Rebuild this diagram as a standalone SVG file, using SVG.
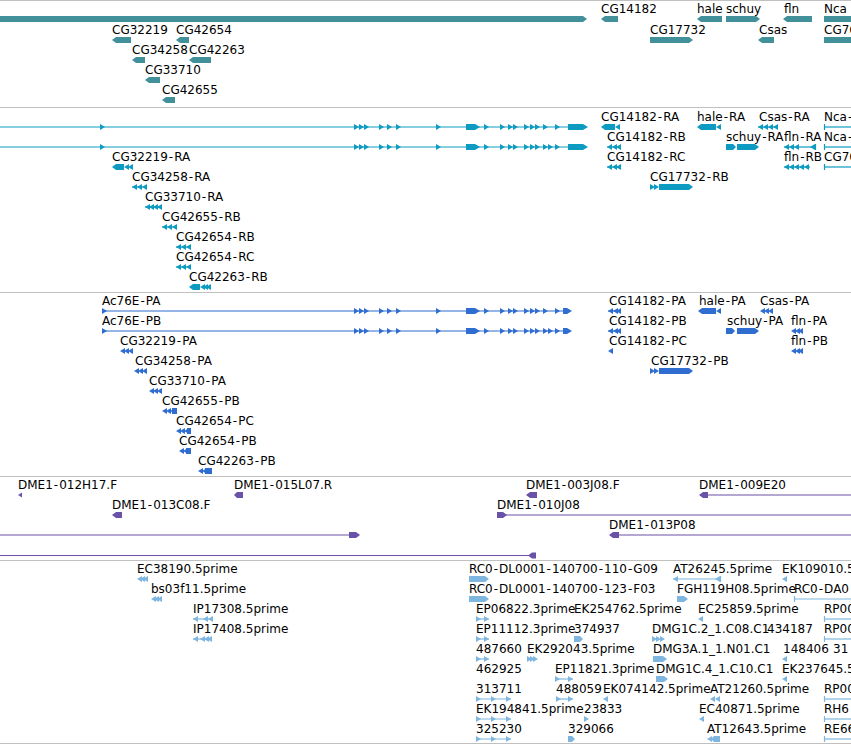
<svg xmlns="http://www.w3.org/2000/svg" width="851" height="744" viewBox="0 0 851 744">
<style>
.t{font-family:"DejaVu Sans","Liberation Sans",sans-serif;font-size:12px;fill:#000}
.h{letter-spacing:1px}
.sep{stroke:#c0c0c0;stroke-width:1;fill:none}
.c1{fill:#42909a}
.c2{fill:#0e9bc1}
.l2{stroke:#0e9bc1;stroke-width:1.2;fill:none}
.c3{fill:#2f6dd0}
.l3{stroke:#2f6dd0;stroke-width:1.2;fill:none}
.c4{fill:#6a52a8}
.l4{stroke:#6a52a8;stroke-width:1.2;fill:none}
.c5{fill:#7eb6e0}
.l5{stroke:#7eb6e0;stroke-width:1.2;fill:none}
</style>
<defs>
<path id="L" d="M0,0 L5,-3 V3 Z"/>
<path id="R" d="M0,-3 L5,0 L0,3 Z"/>
</defs>
<rect x="0" y="0" width="851" height="744" fill="#ffffff"/>
<g id="separators">
<line class="sep" x1="0" y1="0.5" x2="851" y2="0.5"/>
<line class="sep" x1="0" y1="107.5" x2="851" y2="107.5"/>
<line class="sep" x1="0" y1="292.5" x2="851" y2="292.5"/>
<line class="sep" x1="0" y1="476.5" x2="851" y2="476.5"/>
<line class="sep" x1="0" y1="560.5" x2="851" y2="560.5"/>
<line class="sep" x1="0" y1="743.5" x2="851" y2="743.5"/>
</g>

<!-- Track 1: genes -->
<g id="track-genes">
<g id="g-Ac76E" class="c1"><path d="M0,16 H583 L587,19 L583,22 H0 Z"/></g>
<g id="g-CG32219"><text class="t" x="112" y="34">CG32219</text><path class="c1" d="M112,40 L116,37 H131 V43 H116 Z"/></g>
<g id="g-CG42654"><text class="t" x="176" y="34">CG42654</text><path class="c1" d="M176,40 L180,37 H189 V43 H180 Z"/></g>
<g id="g-CG34258"><text class="t" x="132" y="54">CG34258</text><path class="c1" d="M132,60 L136,57 H145 V63 H136 Z"/></g>
<g id="g-CG42263"><text class="t" x="189" y="54">CG42263</text><path class="c1" d="M189,60 L193,57 H211 V63 H193 Z"/></g>
<g id="g-CG33710"><text class="t" x="145" y="74">CG33710</text><path class="c1" d="M145,80 L149,77 H160 V83 H149 Z"/></g>
<g id="g-CG42655"><text class="t" x="162" y="94">CG42655</text><path class="c1" d="M162,100 L166,97 H175 V103 H166 Z"/></g>
<g id="g-CG14182"><text class="t" x="601" y="13">CG14182</text><path class="c1" d="M601,19 L605,16 H618 V22 H605 Z"/></g>
<g id="g-hale"><text class="t" x="697" y="13">hale</text><path class="c1" d="M697,19 L701,16 H722 V22 H701 Z"/></g>
<g id="g-schuy"><text class="t" x="726" y="13">schuy</text><path class="c1" d="M726,16 H756 L760,19 L756,22 H726 Z"/></g>
<g id="g-fln"><text class="t" x="784" y="13">fln</text><path class="c1" d="M783,19 L787,16 H812 V22 H787 Z"/></g>
<g id="g-Nca"><text class="t" x="824" y="13">Nca</text><rect class="c1" x="824" y="16" width="30" height="6"/></g>
<g id="g-CG17732"><text class="t" x="650" y="34">CG17732</text><path class="c1" d="M650,37 H689 L693,40 L689,43 H650 Z"/></g>
<g id="g-Csas"><text class="t" x="759" y="34">Csas</text><path class="c1" d="M758,40 L762,37 H774 V43 H762 Z"/></g>
<g id="g-CG76"><text class="t" x="824" y="34">CG76</text><rect class="c1" x="824" y="37" width="30" height="6"/></g>
</g>

<!-- Track 2: transcripts -->
<g id="track-transcripts" class="c2">
<g id="t-Ac76E-RA">
<line class="l2" x1="0" y1="127" x2="584" y2="127"/>
<use href="#R" x="100" y="127"/>
<use href="#R" x="354" y="127"/><use href="#R" x="359" y="127"/><use href="#R" x="364" y="127"/>
<use href="#R" x="379" y="127"/><use href="#R" x="387" y="127"/><use href="#R" x="396" y="127"/>
<use href="#R" x="436" y="127"/>
<rect x="466" y="124" width="9" height="6"/><use href="#R" x="475" y="127"/>
<use href="#R" x="484" y="127"/>
<use href="#R" x="500" y="127"/><use href="#R" x="508" y="127"/><use href="#R" x="513" y="127"/>
<use href="#R" x="524" y="127"/><use href="#R" x="530" y="127"/><use href="#R" x="535" y="127"/>
<use href="#R" x="543" y="127"/><use href="#R" x="555" y="127"/>
<rect x="568" y="124" width="15" height="6"/><use href="#R" x="583" y="127"/>
</g>
<g id="t-Ac76E-RB">
<line class="l2" x1="0" y1="147" x2="584" y2="147"/>
<use href="#R" x="100" y="147"/>
<use href="#R" x="354" y="147"/><use href="#R" x="359" y="147"/><use href="#R" x="364" y="147"/>
<use href="#R" x="379" y="147"/><use href="#R" x="387" y="147"/><use href="#R" x="396" y="147"/>
<use href="#R" x="436" y="147"/>
<rect x="466" y="144" width="9" height="6"/><use href="#R" x="475" y="147"/>
<use href="#R" x="484" y="147"/>
<use href="#R" x="500" y="147"/><use href="#R" x="508" y="147"/><use href="#R" x="513" y="147"/>
<use href="#R" x="524" y="147"/><use href="#R" x="530" y="147"/><use href="#R" x="535" y="147"/>
<use href="#R" x="543" y="147"/><use href="#R" x="548" y="147"/><use href="#R" x="555" y="147"/>
<rect x="568" y="144" width="15" height="6"/><use href="#R" x="583" y="147"/>
</g>
<g id="t-CG32219-RA"><text class="t" x="112" y="161">CG32219<tspan class="h" dx="1">-</tspan>RA</text><path d="M112,167 L116,164 H124 V170 H116 Z"/><use href="#L" x="124" y="167"/><use href="#L" x="128" y="167"/></g>
<g id="t-CG34258-RA"><text class="t" x="132" y="181">CG34258<tspan class="h" dx="1">-</tspan>RA</text><line class="l2" x1="132" y1="187" x2="147" y2="187"/><use href="#L" x="132" y="187"/><use href="#L" x="137" y="187"/><use href="#L" x="142" y="187"/></g>
<g id="t-CG33710-RA"><text class="t" x="145" y="201">CG33710<tspan class="h" dx="1">-</tspan>RA</text><line class="l2" x1="145" y1="207" x2="162" y2="207"/><use href="#L" x="145" y="207"/><use href="#L" x="149" y="207"/><use href="#L" x="153" y="207"/><use href="#L" x="157" y="207"/></g>
<g id="t-CG42655-RB"><text class="t" x="162" y="221">CG42655<tspan class="h" dx="1">-</tspan>RB</text><line class="l2" x1="162" y1="227" x2="177" y2="227"/><use href="#L" x="162" y="227"/><use href="#L" x="167" y="227"/><use href="#L" x="172" y="227"/></g>
<g id="t-CG42654-RB"><text class="t" x="176" y="241">CG42654<tspan class="h" dx="1">-</tspan>RB</text><line class="l2" x1="176" y1="247" x2="191" y2="247"/><use href="#L" x="176" y="247"/><use href="#L" x="181" y="247"/><use href="#L" x="186" y="247"/></g>
<g id="t-CG42654-RC"><text class="t" x="176" y="261">CG42654<tspan class="h" dx="1">-</tspan>RC</text><line class="l2" x1="176" y1="267" x2="191" y2="267"/><use href="#L" x="176" y="267"/><use href="#L" x="181" y="267"/><use href="#L" x="186" y="267"/></g>
<g id="t-CG42263-RB"><text class="t" x="189" y="281">CG42263<tspan class="h" dx="1">-</tspan>RB</text><path d="M189,287 L193,284 H200 V290 H193 Z"/><use href="#L" x="200" y="287"/><use href="#L" x="203" y="287"/><use href="#L" x="206" y="287"/></g>
<g id="t-CG14182-RA"><text class="t" x="601" y="121">CG14182<tspan class="h" dx="1">-</tspan>RA</text><path d="M601,127 L605,124 H615 V130 H605 Z"/><use href="#L" x="615" y="127"/></g>
<g id="t-hale-RA"><text class="t" x="697" y="121">hale<tspan class="h" dx="1">-</tspan>RA</text><path d="M697,127 L701,124 H716 V130 H701 Z"/><use href="#L" x="716" y="127"/></g>
<g id="t-Csas-RA"><text class="t" x="759" y="121">Csas<tspan class="h" dx="1">-</tspan>RA</text><line class="l2" x1="758" y1="127" x2="778" y2="127"/><use href="#L" x="758" y="127"/><use href="#L" x="763" y="127"/><use href="#L" x="768" y="127"/><use href="#L" x="773" y="127"/></g>
<g id="t-Nca-RA"><text class="t" x="824" y="121">Nca<tspan dx="1">-</tspan></text><line class="l2" x1="824" y1="127" x2="851" y2="127"/><line class="l2" x1="824.5" y1="124" x2="824.5" y2="130"/></g>
<g id="t-CG14182-RB"><text class="t" x="607" y="141">CG14182<tspan class="h" dx="1">-</tspan>RB</text><line class="l2" x1="607" y1="147" x2="621" y2="147"/><use href="#L" x="607" y="147"/><use href="#L" x="612" y="147"/><use href="#L" x="616" y="147"/></g>
<g id="t-schuy-RA"><text class="t" x="726" y="141">schuy<tspan class="h" dx="1">-</tspan>RA</text><path d="M726,144 H733 L736,147 L733,150 H726 Z"/><path d="M737,144 H755 L759,147 L755,150 H737 Z"/></g>
<g id="t-fln-RA"><text class="t" x="784" y="141">fln<tspan class="h" dx="1">-</tspan>RA</text><line class="l2" x1="784" y1="147" x2="816" y2="147"/><use href="#L" x="784" y="147"/><use href="#L" x="789" y="147"/><use href="#L" x="794" y="147"/><use href="#L" x="810" y="147"/><line class="l2" x1="815.5" y1="144" x2="815.5" y2="150"/></g>
<g id="t-Nca-RB"><text class="t" x="824" y="141">Nca<tspan dx="1">-</tspan></text><line class="l2" x1="824" y1="147" x2="851" y2="147"/><line class="l2" x1="824.5" y1="144" x2="824.5" y2="150"/></g>
<g id="t-CG14182-RC"><text class="t" x="607" y="161">CG14182<tspan class="h" dx="1">-</tspan>RC</text><line class="l2" x1="607" y1="167" x2="621" y2="167"/><use href="#L" x="607" y="167"/><use href="#L" x="612" y="167"/><use href="#L" x="616" y="167"/></g>
<g id="t-fln-RB"><text class="t" x="784" y="161">fln<tspan class="h" dx="1">-</tspan>RB</text><use href="#L" x="784" y="167"/><use href="#L" x="789" y="167"/><use href="#L" x="794" y="167"/><use href="#L" x="799" y="167"/><use href="#L" x="804" y="167"/><line class="l2" x1="784" y1="167" x2="810" y2="167"/></g>
<g id="t-CG76"><text class="t" x="824" y="161">CG76</text><line class="l2" x1="824" y1="167" x2="851" y2="167"/><line class="l2" x1="824.5" y1="164" x2="824.5" y2="170"/></g>
<g id="t-CG17732-RB"><text class="t" x="650" y="181">CG17732<tspan class="h" dx="1">-</tspan>RB</text><use href="#R" x="650" y="187"/><use href="#R" x="654" y="187"/><path d="M659,184 H689 L693,187 L689,190 H659 Z"/></g>
</g>

<!-- Track 3: proteins -->
<g id="track-proteins" class="c3">
<g id="p-Ac76E-PA"><text class="t" x="102" y="305">Ac76E<tspan class="h" dx="1">-</tspan>PA</text>
<line class="l3" x1="102" y1="311" x2="568" y2="311"/>
<use href="#R" x="102" y="311"/>
<use href="#R" x="354" y="311"/><use href="#R" x="359" y="311"/><use href="#R" x="364" y="311"/>
<use href="#R" x="379" y="311"/><use href="#R" x="387" y="311"/><use href="#R" x="396" y="311"/>
<use href="#R" x="436" y="311"/>
<rect x="466" y="308" width="9" height="6"/><use href="#R" x="475" y="311"/>
<use href="#R" x="484" y="311"/>
<use href="#R" x="500" y="311"/><use href="#R" x="508" y="311"/><use href="#R" x="513" y="311"/>
<use href="#R" x="524" y="311"/><use href="#R" x="530" y="311"/><use href="#R" x="535" y="311"/>
<use href="#R" x="543" y="311"/><use href="#R" x="555" y="311"/>
<rect x="563" y="308" width="4" height="6"/><use href="#R" x="567" y="311"/>
</g>
<g id="p-Ac76E-PB"><text class="t" x="102" y="325">Ac76E<tspan class="h" dx="1">-</tspan>PB</text>
<line class="l3" x1="102" y1="331" x2="568" y2="331"/>
<use href="#R" x="102" y="331"/>
<use href="#R" x="354" y="331"/><use href="#R" x="359" y="331"/><use href="#R" x="364" y="331"/>
<use href="#R" x="379" y="331"/><use href="#R" x="387" y="331"/><use href="#R" x="396" y="331"/>
<use href="#R" x="436" y="331"/>
<rect x="466" y="328" width="9" height="6"/><use href="#R" x="475" y="331"/>
<use href="#R" x="484" y="331"/>
<use href="#R" x="500" y="331"/><use href="#R" x="508" y="331"/><use href="#R" x="513" y="331"/>
<use href="#R" x="524" y="331"/><use href="#R" x="530" y="331"/><use href="#R" x="535" y="331"/>
<use href="#R" x="543" y="331"/><use href="#R" x="548" y="331"/><use href="#R" x="555" y="331"/>
<rect x="563" y="328" width="4" height="6"/><use href="#R" x="567" y="331"/>
</g>
<g id="p-CG32219-PA"><text class="t" x="120" y="345">CG32219<tspan class="h" dx="1">-</tspan>PA</text><use href="#L" x="120" y="351"/><use href="#L" x="124" y="351"/><use href="#L" x="128" y="351"/></g>
<g id="p-CG34258-PA"><text class="t" x="135" y="365">CG34258<tspan class="h" dx="1">-</tspan>PA</text><use href="#L" x="134" y="371"/><use href="#L" x="138" y="371"/><use href="#L" x="142" y="371"/></g>
<g id="p-CG33710-PA"><text class="t" x="149" y="385">CG33710<tspan class="h" dx="1">-</tspan>PA</text><use href="#L" x="149" y="391"/><use href="#L" x="153" y="391"/><use href="#L" x="157" y="391"/></g>
<g id="p-CG42655-PB"><text class="t" x="162" y="405">CG42655<tspan class="h" dx="1">-</tspan>PB</text><use href="#L" x="162" y="411"/><use href="#L" x="166" y="411"/><use href="#L" x="170" y="411"/><rect x="172" y="408" width="5" height="6"/></g>
<g id="p-CG42654-PC"><text class="t" x="176" y="425">CG42654<tspan class="h" dx="1">-</tspan>PC</text><use href="#L" x="176" y="431"/><use href="#L" x="180" y="431"/><use href="#L" x="184" y="431"/><rect x="187" y="428" width="4" height="6"/></g>
<g id="p-CG42654-PB"><text class="t" x="179" y="445">CG42654<tspan class="h" dx="1">-</tspan>PB</text><use href="#L" x="179" y="451"/><use href="#L" x="183" y="451"/><rect x="186" y="448" width="5" height="6"/></g>
<g id="p-CG42263-PB"><text class="t" x="198" y="465">CG42263<tspan class="h" dx="1">-</tspan>PB</text><use href="#L" x="198" y="471"/><use href="#L" x="202" y="471"/><rect x="205" y="468" width="7" height="6"/></g>
<g id="p-CG14182-PA"><text class="t" x="609" y="305">CG14182<tspan class="h" dx="1">-</tspan>PA</text><line class="l3" x1="608" y1="311" x2="621" y2="311"/><use href="#L" x="608" y="311"/><use href="#L" x="613" y="311"/><use href="#L" x="616" y="311"/></g>
<g id="p-hale-PA"><text class="t" x="699" y="305">hale<tspan class="h" dx="1">-</tspan>PA</text><path d="M698,311 L702,308 H716 V314 H702 Z"/><use href="#L" x="716" y="311"/></g>
<g id="p-Csas-PA"><text class="t" x="760" y="305">Csas<tspan class="h" dx="1">-</tspan>PA</text><use href="#L" x="760" y="311"/><use href="#L" x="764" y="311"/><use href="#L" x="768" y="311"/></g>
<g id="p-CG14182-PB"><text class="t" x="609" y="325">CG14182<tspan class="h" dx="1">-</tspan>PB</text><line class="l3" x1="608" y1="331" x2="621" y2="331"/><use href="#L" x="608" y="331"/><use href="#L" x="613" y="331"/><use href="#L" x="616" y="331"/></g>
<g id="p-schuy-PA"><text class="t" x="727" y="325">schuy<tspan class="h" dx="1">-</tspan>PA</text><path d="M726,328 H732 L735,331 L732,334 H726 Z"/><path d="M737,328 H755 L759,331 L755,334 H737 Z"/></g>
<g id="p-fln-PA"><text class="t" x="791" y="325">fln<tspan class="h" dx="1">-</tspan>PA</text><use href="#L" x="791" y="331"/><use href="#L" x="795" y="331"/><use href="#L" x="798" y="331"/></g>
<g id="p-CG14182-PC"><text class="t" x="609" y="345">CG14182<tspan class="h" dx="1">-</tspan>PC</text><use href="#L" x="608" y="351"/></g>
<g id="p-fln-PB"><text class="t" x="791" y="345">fln<tspan class="h" dx="1">-</tspan>PB</text><use href="#L" x="791" y="351"/><use href="#L" x="795" y="351"/><use href="#L" x="798" y="351"/></g>
<g id="p-CG17732-PB"><text class="t" x="651" y="365">CG17732<tspan class="h" dx="1">-</tspan>PB</text><use href="#R" x="650" y="371"/><use href="#R" x="654" y="371"/><path d="M659,368 H689 L693,371 L689,374 H659 Z"/></g>
</g>

<!-- Track 4: BAC ends -->
<g id="track-bac" class="c4">
<g id="b-012H17"><text class="t" x="18" y="489">DME1<tspan class="h" dx="1">-</tspan>012H17.F</text><path d="M18,495 L22,492.5 V497.5 Z"/></g>
<g id="b-015L07"><text class="t" x="234" y="489">DME1<tspan class="h" dx="1">-</tspan>015L07.R</text><path d="M234,495 L237,492 H243 V498 H237 Z"/></g>
<g id="b-003J08"><text class="t" x="526" y="489">DME1<tspan class="h" dx="1">-</tspan>003J08.F</text><path d="M526,495 L530,492 H537 V498 H530 Z"/></g>
<g id="b-009E20"><text class="t" x="699" y="489">DME1<tspan class="h" dx="1">-</tspan>009E20</text><line class="l4" x1="705" y1="495" x2="851" y2="495"/><path d="M699,495 L703,492 H708 V498 H703 Z"/></g>
<g id="b-013C08"><text class="t" x="112" y="509">DME1<tspan class="h" dx="1">-</tspan>013C08.F</text><path d="M112,515 L116,512 H122 V518 H116 Z"/></g>
<g id="b-010J08"><text class="t" x="497" y="509">DME1<tspan class="h" dx="1">-</tspan>010J08</text><line class="l4" x1="503" y1="515" x2="851" y2="515"/><path d="M497,512 H503 L507,515 L503,518 H497 Z"/></g>
<g id="b-013P08"><text class="t" x="609" y="529">DME1<tspan class="h" dx="1">-</tspan>013P08</text><line class="l4" x1="615" y1="535" x2="851" y2="535"/><path d="M609,535 L613,532 H619 V538 H613 Z"/></g>
<g id="b-row2-left"><line class="l4" x1="0" y1="535" x2="352" y2="535"/><path d="M349,532 H356 L360,535 L356,538 H349 Z"/></g>
<g id="b-row3-left"><line class="l4" x1="0" y1="555.5" x2="532" y2="555.5"/><path d="M528,555.5 L532,552.5 H536 V558.5 H532 Z"/></g>
</g>

<!-- Track 5: ESTs -->
<g id="track-est" class="c5">
<g id="e-EC38190"><text class="t" x="137" y="573">EC38190.5prime</text><use href="#L" x="137" y="579"/><use href="#L" x="140" y="579"/><use href="#L" x="143" y="579"/></g>
<g id="e-bs03f11"><text class="t" x="151" y="593">bs03f11.5prime</text><use href="#L" x="151" y="599"/><use href="#L" x="154" y="599"/><use href="#L" x="157" y="599"/></g>
<g id="e-IP17308"><text class="t" x="193" y="613">IP17308.5prime</text><line class="l5" x1="193" y1="619" x2="213" y2="619"/><use href="#L" x="193" y="619"/><use href="#L" x="203" y="619"/><use href="#L" x="208" y="619"/></g>
<g id="e-IP17408"><text class="t" x="193" y="633">IP17408.5prime</text><line class="l5" x1="193" y1="639" x2="212" y2="639"/><use href="#L" x="193" y="639"/><use href="#L" x="200" y="639"/><use href="#L" x="204" y="639"/><use href="#L" x="207" y="639"/></g>
<g id="e-RC0-G09"><text class="t" x="469" y="573">RC0<tspan class="h" dx="1">-</tspan>DL0001<tspan class="h" dx="1">-</tspan>140700<tspan class="h" dx="1">-</tspan>110<tspan class="h" dx="1">-</tspan>G09</text><path d="M469,576 H485 L489,579 L485,582 H469 Z"/></g>
<g id="e-AT26245"><text class="t" x="673" y="573">AT26245.5prime</text><line class="l5" x1="673" y1="579" x2="721" y2="579"/><use href="#L" x="673" y="579"/><use href="#L" x="715" y="579"/><line class="l5" x1="720.5" y1="576" x2="720.5" y2="582"/></g>
<g id="e-EK109010"><text class="t" x="782" y="573">EK109010.5prime</text><use href="#L" x="782" y="579"/></g>
<g id="e-RC0-F03"><text class="t" x="469" y="593">RC0<tspan class="h" dx="1">-</tspan>DL0001<tspan class="h" dx="1">-</tspan>140700<tspan class="h" dx="1">-</tspan>123<tspan class="h" dx="1">-</tspan>F03</text><path d="M469,596 H485 L489,599 L485,602 H469 Z"/></g>
<g id="e-FGH119H08"><text class="t" x="677" y="593">FGH119H08.5prime</text><path d="M677,596 H684 L688,599 L684,602 H677 Z"/></g>
<g id="e-RC0-DA0"><text class="t" x="794" y="593">RC0<tspan class="h" dx="1">-</tspan>DA0</text><line class="l5" x1="794" y1="599" x2="851" y2="599"/><line class="l5" x1="794.5" y1="596" x2="794.5" y2="602"/></g>
<g id="e-EP06822"><text class="t" x="476" y="613">EP06822.3prime</text><line class="l5" x1="476" y1="619" x2="489" y2="619"/><use href="#R" x="476" y="619"/><use href="#R" x="484" y="619"/></g>
<g id="e-EK254762"><text class="t" x="574" y="613">EK254762.5prime</text></g>
<g id="e-EC25859"><text class="t" x="698" y="613">EC25859.5prime</text><use href="#L" x="698" y="619"/></g>
<g id="e-RP00-a"><text class="t" x="824" y="613">RP00</text><line class="l5" x1="824" y1="619" x2="851" y2="619"/><line class="l5" x1="824.5" y1="616" x2="824.5" y2="622"/></g>
<g id="e-EP11112"><text class="t" x="476" y="633">EP11112.3prime</text><line class="l5" x1="476" y1="639" x2="489" y2="639"/><use href="#R" x="476" y="639"/><use href="#R" x="484" y="639"/></g>
<g id="e-374937"><text class="t" x="574" y="633">374937</text><path d="M574,636 H580 L583,639 L580,642 H574 Z"/></g>
<g id="e-DMG1C2"><text class="t" x="652" y="633">DMG1C.2_1.C08.C1</text><use href="#R" x="652" y="639"/><use href="#R" x="656" y="639"/><use href="#R" x="660" y="639"/></g>
<g id="e-434187"><text class="t" x="767" y="633">434187</text></g>
<g id="e-RP00-b"><text class="t" x="824" y="633">RP00</text><line class="l5" x1="824" y1="639" x2="851" y2="639"/><line class="l5" x1="824.5" y1="636" x2="824.5" y2="642"/></g>
<g id="e-487660"><text class="t" x="476" y="653">487660</text><line class="l5" x1="476" y1="659" x2="489" y2="659"/><use href="#R" x="476" y="659"/><use href="#R" x="484" y="659"/></g>
<g id="e-EK292043"><text class="t" x="527" y="653">EK292043.5prime</text><use href="#R" x="527" y="659"/><use href="#R" x="530" y="659"/><use href="#R" x="533" y="659"/></g>
<g id="e-DMG3A"><text class="t" x="653" y="653">DMG3A.1_1.N01.C1</text><path d="M653,656 H663 L667,659 L663,662 H653 Z"/></g>
<g id="e-148406"><text class="t" x="783" y="653">148406</text><use href="#L" x="782" y="659"/></g>
<g id="e-31"><text class="t" x="833" y="653">31</text></g>
<g id="e-462925"><text class="t" x="476" y="673">462925</text></g>
<g id="e-EP11821"><text class="t" x="555" y="673">EP11821.3prime</text><line class="l5" x1="555" y1="679" x2="573" y2="679"/><use href="#R" x="555" y="679"/><use href="#R" x="568" y="679"/></g>
<g id="e-DMG1C4"><text class="t" x="656" y="673">DMG1C.4_1.C10.C1</text><path d="M656,676 H664 L668,679 L664,682 H656 Z"/></g>
<g id="e-EK237645"><text class="t" x="782" y="673">EK237645.5prime</text><use href="#L" x="782" y="679"/></g>
<g id="e-313711"><text class="t" x="476" y="693">313711</text><line class="l5" x1="476" y1="699" x2="511" y2="699"/><use href="#R" x="476" y="699"/><use href="#R" x="491" y="699"/><use href="#R" x="506" y="699"/></g>
<g id="e-488059"><text class="t" x="556" y="693">488059</text><line class="l5" x1="556" y1="699" x2="573" y2="699"/><use href="#R" x="556" y="699"/><use href="#R" x="568" y="699"/></g>
<g id="e-EK074142"><text class="t" x="603" y="693">EK074142.5prime</text><use href="#L" x="603" y="699"/></g>
<g id="e-AT21260"><text class="t" x="710" y="693">AT21260.5prime</text><use href="#L" x="710" y="699"/><use href="#L" x="715" y="699"/></g>
<g id="e-RP00-c"><text class="t" x="824" y="693">RP00</text><line class="l5" x1="824" y1="699" x2="851" y2="699"/><line class="l5" x1="824.5" y1="696" x2="824.5" y2="702"/></g>
<g id="e-EK194841"><text class="t" x="476" y="713">EK194841.5prime</text><line class="l5" x1="476" y1="719" x2="511" y2="719"/><use href="#R" x="476" y="719"/><use href="#R" x="491" y="719"/><use href="#R" x="506" y="719"/></g>
<g id="e-23833"><text class="t" x="584" y="713">23833</text><use href="#R" x="584" y="719"/></g>
<g id="e-EC40871"><text class="t" x="699" y="713">EC40871.5prime</text><use href="#L" x="699" y="719"/></g>
<g id="e-RH6"><text class="t" x="824" y="713">RH6</text><line class="l5" x1="824" y1="719" x2="851" y2="719"/><line class="l5" x1="824.5" y1="716" x2="824.5" y2="722"/></g>
<g id="e-325230"><text class="t" x="476" y="733">325230</text><line class="l5" x1="476" y1="739" x2="511" y2="739"/><use href="#R" x="476" y="739"/><use href="#R" x="491" y="739"/><use href="#R" x="506" y="739"/></g>
<g id="e-329066"><text class="t" x="568" y="733">329066</text><path d="M568,736 H572 L575,739 L572,742 H568 Z"/></g>
<g id="e-AT12643"><text class="t" x="707" y="733">AT12643.5prime</text><use href="#L" x="707" y="739"/><path d="M711,739 L714,736 H720 V742 H714 Z"/></g>
<g id="e-RE66"><text class="t" x="824" y="733">RE66</text><line class="l5" x1="824" y1="739" x2="851" y2="739"/><line class="l5" x1="824.5" y1="736" x2="824.5" y2="742"/></g>
</g>
</svg>
